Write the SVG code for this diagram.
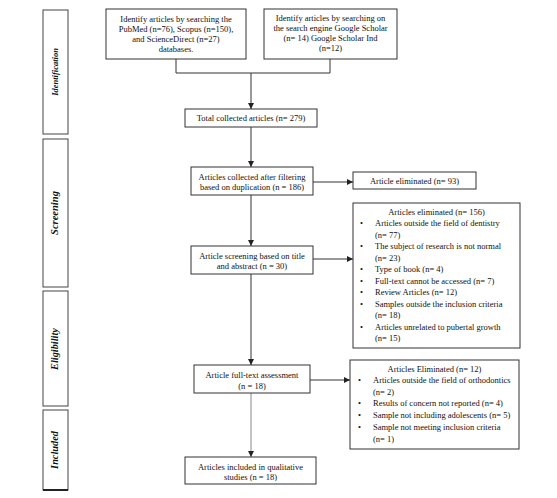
<svg xmlns="http://www.w3.org/2000/svg" width="557" height="498" viewBox="0 0 557 498">
<defs>
<marker id="ah" viewBox="0 0 10 10" refX="10" refY="5" markerWidth="6" markerHeight="6" markerUnits="userSpaceOnUse" orient="auto">
<path d="M0,0 L10,5 L0,10 Z" fill="#222"/>
</marker>
<style>
.box{fill:#fff;stroke:#333;stroke-width:1}
.side{fill:#fff;stroke:#444;stroke-width:1}
.t{font-family:"Liberation Serif","Times New Roman",serif;font-size:8.5px;fill:#111}
.c{text-anchor:middle}
.lab{font-family:"Liberation Serif","Times New Roman",serif;font-weight:bold;font-style:italic;fill:#111;text-anchor:middle;dominant-baseline:middle}
.ln{fill:none;stroke:#333;stroke-width:1}
.lg{fill:none;stroke:#888;stroke-width:1}
</style>
</defs>
<rect width="557" height="498" fill="#fff"/>

<g id="stages">
<g id="stage-identification">
<rect class="side" x="43" y="10" width="25" height="124"/>
<text class="lab" font-size="8.5" transform="translate(56,72) rotate(-90)">Identification</text>
</g>
<g id="stage-screening">
<rect class="side" x="43" y="139" width="25" height="148"/>
<text class="lab" font-size="10.5" transform="translate(56,213) rotate(-90)">Screening</text>
</g>
<g id="stage-eligibility">
<rect class="side" x="43" y="291" width="25" height="115"/>
<text class="lab" font-size="10.3" transform="translate(56,349) rotate(-90)">Eligibility</text>
</g>
<g id="stage-included">
<rect class="side" x="43" y="410" width="25" height="80"/>
<line x1="43" y1="490" x2="68" y2="490" stroke="#222" stroke-width="2"/>
<text class="lab" font-size="10.3" transform="translate(56,450) rotate(-90)">Included</text>
</g>
</g>

<g id="connectors">
<polyline class="ln" points="176,59 176,73 330,73 330,59"/>
<line class="ln" x1="251" y1="73" x2="251" y2="109" marker-end="url(#ah)"/>
<line class="ln" x1="251" y1="127" x2="251" y2="167" marker-end="url(#ah)"/>
<line class="ln" x1="313" y1="182" x2="353" y2="182" marker-end="url(#ah)"/>
<line class="ln" x1="251" y1="195" x2="251" y2="246" marker-end="url(#ah)"/>
<line class="ln" x1="313" y1="259" x2="353" y2="259" marker-end="url(#ah)"/>
<line class="ln" x1="251" y1="274" x2="251" y2="365" marker-end="url(#ah)"/>
<line class="ln" x1="310" y1="380" x2="350" y2="380" marker-end="url(#ah)"/>
<line class="lg" x1="251" y1="393" x2="251" y2="457" marker-end="url(#ah)"/>
</g>

<g id="node-db-search">
<rect class="box" x="106" y="9" width="140" height="50"/>
<text class="t c" x="176" y="22">Identify articles by searching the</text>
<text class="t c" x="176" y="32">PubMed (n=76), Scopus (n=150),</text>
<text class="t c" x="176" y="42">and ScienceDirect (n=27)</text>
<text class="t c" x="176" y="52">databases.</text>
</g>

<g id="node-google-search">
<rect class="box" x="264" y="9" width="133" height="50"/>
<text class="t c" x="330.5" y="21">Identify articles by searching on</text>
<text class="t c" x="330.5" y="31">the search engine Google Scholar</text>
<text class="t c" x="330.5" y="41">(n= 14) Google Scholar Ind</text>
<text class="t c" x="330.5" y="51">(n=12)</text>
</g>

<g id="node-total">
<rect class="box" x="185" y="109" width="132" height="18"/>
<text class="t c" x="251" y="121">Total collected articles (n= 279)</text>
</g>

<g id="node-dedup">
<rect class="box" x="191" y="167" width="122" height="28"/>
<text class="t c" x="252" y="180">Articles collected after filtering</text>
<text class="t c" x="252" y="190">based on duplication (n = 186)</text>
</g>

<g id="node-elim-93">
<rect class="box" x="353" y="172" width="123" height="17"/>
<text class="t c" x="414.5" y="184">Article eliminated (n= 93)</text>
</g>

<g id="node-title-abstract">
<rect class="box" x="191" y="246" width="122" height="28"/>
<text class="t c" x="252" y="259">Article screening based on title</text>
<text class="t c" x="252" y="269">and abstract (n = 30)</text>
</g>

<g id="node-elim-156">
<rect class="box" x="353" y="203" width="167" height="145"/>
<text class="t c" x="436.5" y="215">Articles eliminated (n= 156)</text>
<g class="t">
<text x="360" y="226">•</text><text x="375" y="226">Articles outside the field of dentistry</text>
<text x="375" y="237.5">(n= 77)</text>
<text x="360" y="249">•</text><text x="375" y="249">The subject of research is not normal</text>
<text x="375" y="260.5">(n= 23)</text>
<text x="360" y="272">•</text><text x="375" y="272">Type of book (n= 4)</text>
<text x="360" y="283.5">•</text><text x="375" y="283.5">Full-text cannot be accessed (n= 7)</text>
<text x="360" y="295">•</text><text x="375" y="295">Review Articles (n= 12)</text>
<text x="360" y="306.5">•</text><text x="375" y="306.5">Samples outside the inclusion criteria</text>
<text x="375" y="318">(n= 18)</text>
<text x="360" y="329.5">•</text><text x="375" y="329.5">Articles unrelated to pubertal growth</text>
<text x="375" y="341">(n= 15)</text>
</g>
</g>

<g id="node-fulltext">
<rect class="box" x="194" y="365" width="116" height="28"/>
<text class="t c" x="252" y="378">Article full-text assessment</text>
<text class="t c" x="252" y="389">(n = 18)</text>
</g>

<g id="node-elim-12">
<rect class="box" x="350" y="360" width="169" height="89"/>
<text class="t c" x="434.5" y="372">Articles Eliminated (n= 12)</text>
<g class="t">
<text x="358" y="383">•</text><text x="373" y="383">Articles outside the field of orthodontics</text>
<text x="373" y="394.5">(n= 2)</text>
<text x="358" y="406">•</text><text x="373" y="406">Results of concern not reported (n= 4)</text>
<text x="358" y="418">•</text><text x="373" y="418">Sample not including adolescents (n= 5)</text>
<text x="358" y="430">•</text><text x="373" y="430">Sample not meeting inclusion criteria</text>
<text x="373" y="441.5">(n= 1)</text>
</g>
</g>

<g id="node-included">
<rect class="box" x="185" y="457" width="131" height="27"/>
<text class="t c" x="250.5" y="470">Articles included in qualitative</text>
<text class="t c" x="250.5" y="480">studies (n = 18)</text>
</g>
</svg>
